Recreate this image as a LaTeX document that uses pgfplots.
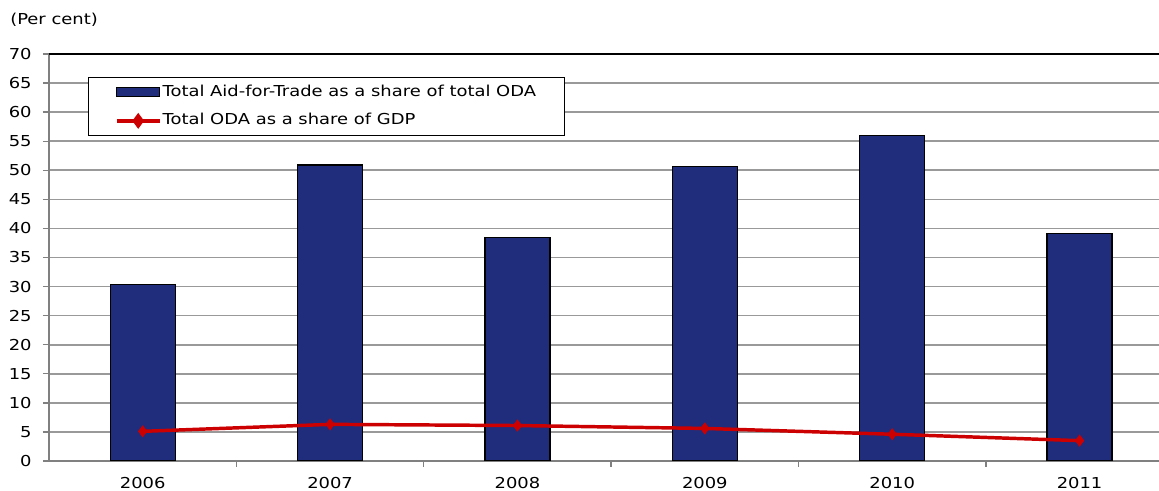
\documentclass[border=0pt]{standalone}
\usepackage{pgfplots}
\pgfplotsset{compat=1.18}
\usepackage{fontspec}
\setmainfont{DejaVu Sans}[FakeStretch=1.19]
\definecolor{barblue}{RGB}{32,45,125}
\definecolor{linered}{RGB}{204,0,0}
\definecolor{gridgray}{RGB}{153,153,153}
\definecolor{axisgray}{RGB}{128,128,128}
\begin{document}
\begin{tikzpicture}[x=1pt,y=1pt]
\useasboundingbox (-36.75,-22.5) rectangle (832.5,345.75);
\begin{axis}[
  at={(0,0)}, anchor=south west,
  width=832.5pt, height=305.25pt, scale only axis,
  xmin=-0.5, xmax=5.424, ymin=0, ymax=70,
  ytick={0,5,...,70},
  xtick={0,1,2,3,4,5},
  xticklabels={2006,2007,2008,2009,2010,2011},
  minor xtick={0.5,1.5,2.5,3.5,4.5},
  axis x line*=bottom, axis y line*=left,
  axis line style={-, axisgray, line width=1.5pt},
  ymajorgrids, major grid style={gridgray, line width=1.2pt},
  tick align=outside,
  major tick length=4.5pt, minor tick length=4.5pt,
  major x tick style={draw=none},
  tick style={axisgray, line width=1pt},
  minor x tick style={axisgray, line width=1pt},
  tick label style={font=\fontsize{11.3}{13}\selectfont},
  /pgf/number format/assume math mode=true,
  xticklabel style={yshift=-4pt},
  yticklabel style={xshift=-5pt},
  legend style={at={(axis description cs:0.0351,0.9435)}, anchor=north west,
    draw=black, line width=0.8pt, font=\fontsize{11.3}{13}\selectfont,
    inner xsep=20pt, inner ysep=3.5pt, row sep=6.5pt,
    nodes={inner xsep=1pt, inner ysep=2pt, text height=8.5pt, text depth=2.5pt}},
  legend cell align=left,
]
\addplot[ybar, bar width=48.75pt, fill=barblue, draw=black, line width=0.9pt,
  legend image code/.code={\draw[fill=barblue, draw=black, line width=0.8pt] (0pt,-3.5pt) rectangle (32pt,3.5pt);}]
  coordinates {(0,30.4) (1,50.9) (2,38.4) (3,50.7) (4,56.0) (5,39.1)};
\addlegendentry{Total Aid-for-Trade as a share of total ODA}
\addplot[linered, line width=2.6pt, mark=diamond*, mark size=4.2pt,
  mark options={solid, fill=linered, line width=0.5pt},
  legend image code/.code={\draw[linered, line width=2.6pt] (0pt,0pt) -- (32pt,0pt);
    \fill[linered] (16pt,3.8pt) -- (18.8pt,0pt) -- (16pt,-3.8pt) -- (13.2pt,0pt) -- cycle;}]
  coordinates {(0,5.1) (1,6.3) (2,6.1) (3,5.6) (4,4.6) (5,3.5)};
\addlegendentry{Total ODA as a share of GDP}
\draw[black, line width=1.5pt] (rel axis cs:0,1) -- (rel axis cs:1,1);
\end{axis}
\node[anchor=west, font=\fontsize{11.3}{13}\selectfont, inner sep=0pt] at (-29.25,330.75) {(Per cent)};
\end{tikzpicture}
\end{document}
